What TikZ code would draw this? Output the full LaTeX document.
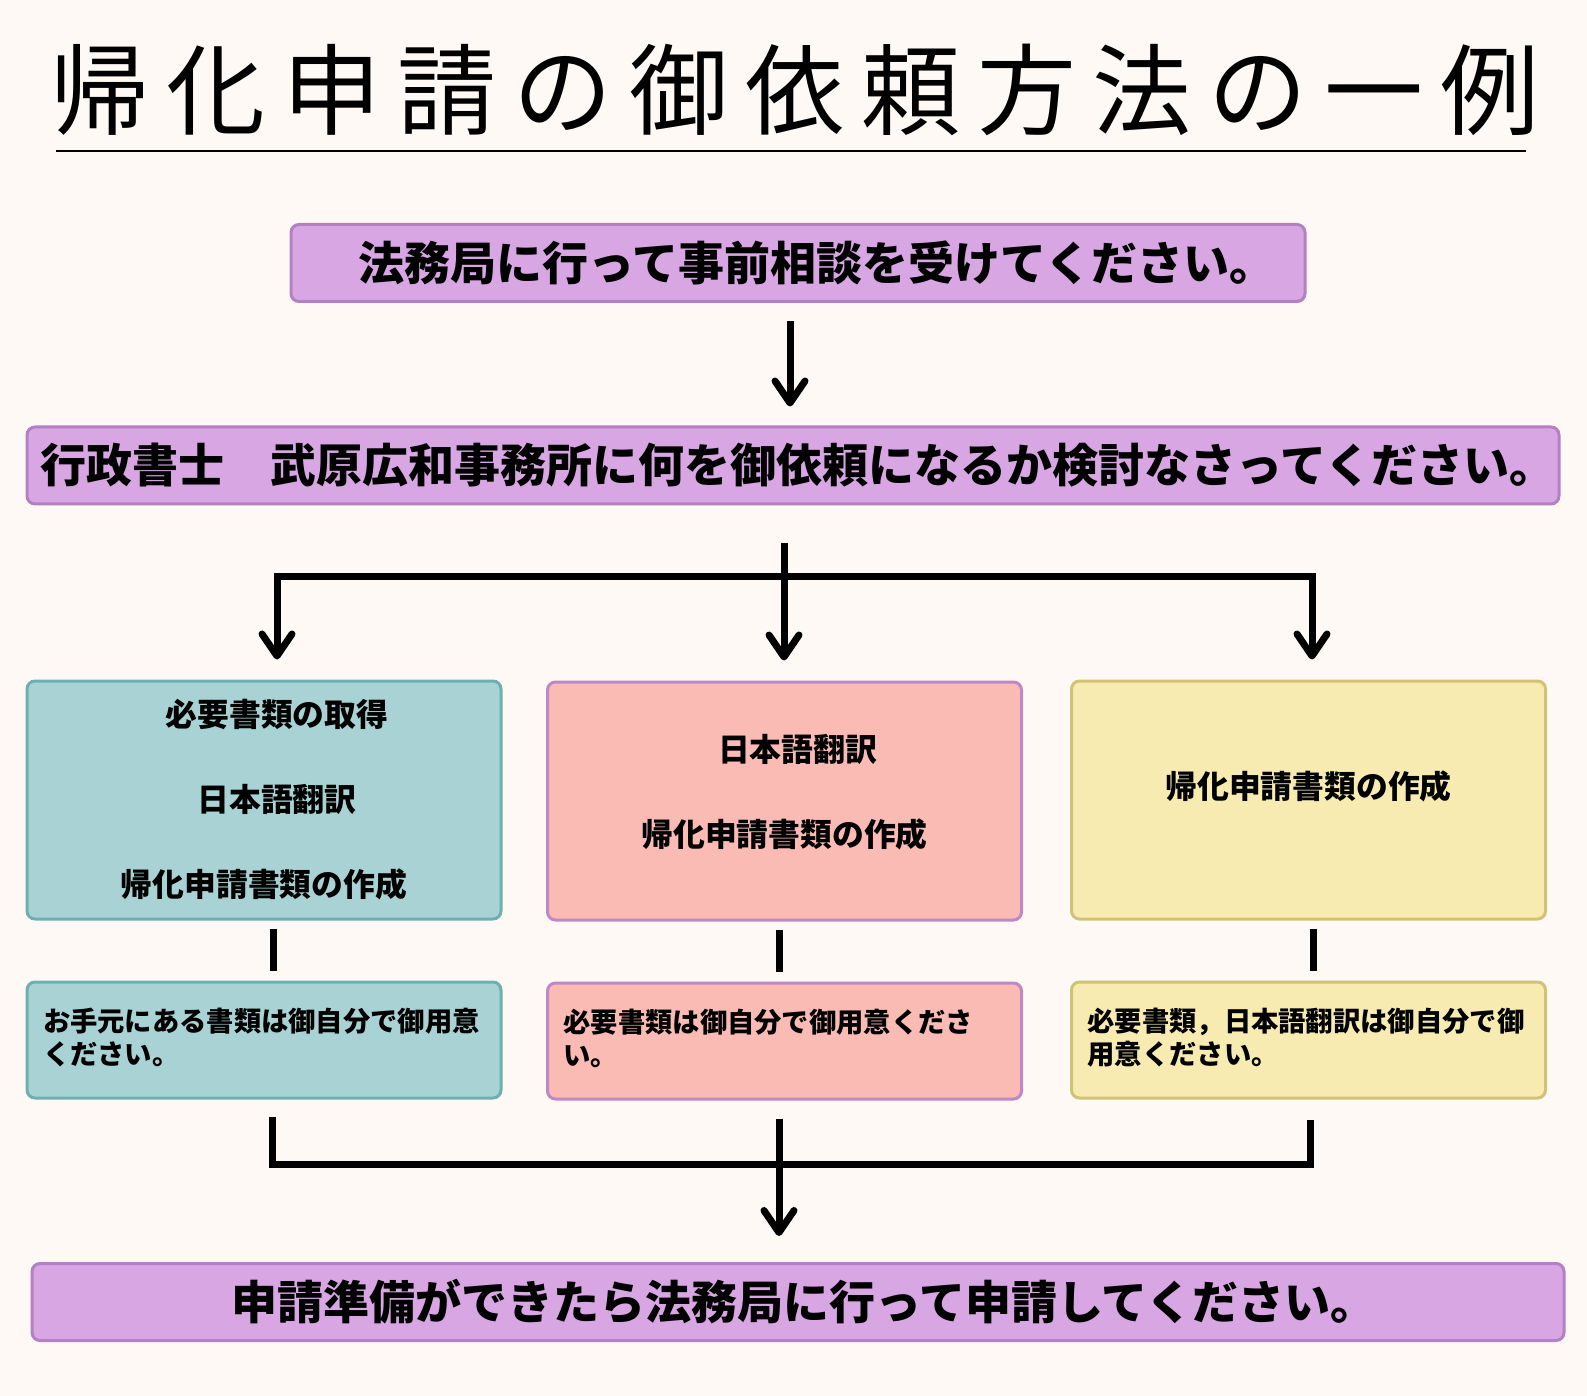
\documentclass[tikz,border=0pt]{standalone}
\usepackage{fontspec}
\usepackage{tikz}
\usetikzlibrary{positioning,arrows.meta}

\definecolor{bgcream}{RGB}{254,249,245}
\definecolor{lilacfill}{RGB}{215,166,227}
\definecolor{lilacline}{RGB}{180,128,196}
\definecolor{tealfill}{RGB}{168,210,212}
\definecolor{tealline}{RGB}{110,176,178}
\definecolor{pinkfill}{RGB}{249,187,180}
\definecolor{pinkline}{RGB}{190,136,200}
\definecolor{yellowfill}{RGB}{248,235,178}
\definecolor{yellowline}{RGB}{208,195,117}

\newfontfamily\jpfont{Noto Sans CJK JP}
\newfontfamily\titlefont[LetterSpace=17]{Noto Sans CJK JP}

\begin{document}
\begin{tikzpicture}[
      x=0.5pt, y=-0.5pt,
      box/.style={
        rounded corners=4pt, line width=1.5pt, inner sep=0pt
      },
      wide/.style={
        box, fill=lilacfill, draw=lilacline,
        minimum width=766pt, minimum height=38.5pt,
        font=\jpfont\bfseries\fontsize{23pt}{27pt}\selectfont
      },
      plan/.style={
        box, minimum width=237pt, minimum height=119pt, align=center,
        font=\jpfont\bfseries\fontsize{15.9pt}{42.5pt}\selectfont
      },
      note/.style={
        box, minimum width=237pt, minimum height=58pt,
        text width=221pt, align=left, text depth=20.6pt,
        font=\jpfont\bfseries\fontsize{13.65pt}{16.7pt}\selectfont
      },
      flow/.style={line width=3.5pt},
      >={Straight Barb[length=11pt,width=15pt,round]}
      ]

      \useasboundingbox[fill=bgcream] (0,0) rectangle (1587,1396);

      % title
      \node[inner sep=0pt, anchor=base,
            font=\titlefont\fontsize{49.5pt}{55pt}\selectfont] (title) at (795,128) {帰化申請の御依頼方法の一例};
      \draw[line width=1pt] (56,151) -- (1526,151);

      \node[wide, minimum width=507pt] (consult) at (798,263) {\hspace*{19pt}法務局に行って事前相談を受けてください。};
      \node[wide] (decide) at (793,465.5) {\hspace*{5pt}行政書士　武原広和事務所に何を御依頼になるか検討なさってください。};

      \node[plan, fill=tealfill, draw=tealline] (planA) at (264,800) {\hspace*{13pt}必要書類の取得\\\hspace*{13pt}日本語翻訳\\帰化申請書類の作成};
      \node[plan, fill=pinkfill, draw=pinkline, text depth=11pt] (planB) at (784.5,801) {\hspace*{13pt}日本語翻訳\\帰化申請書類の作成};
      \node[plan, fill=yellowfill, draw=yellowline, text depth=15pt] (planC) at (1308.5,800) {帰化申請書類の作成};

      \node[note, fill=tealfill, draw=tealline, below=30pt of planA] (noteA) {お手元にある書類は御自分で御用意\\ください。};
      \node[note, fill=pinkfill, draw=pinkline, below=30pt of planB] (noteB) {必要書類は御自分で御用意くださ\\い。};
      \node[note, fill=yellowfill, draw=yellowline, below=30pt of planC] (noteC) {必要書類，日本語翻訳は御自分で御\\用意ください。};

      \node[wide] (apply) at (798,1302) {\hspace*{6pt}申請準備ができたら法務局に行って申請してください。};

      \coordinate (fork) at (784,543);
      \coordinate (forkbar) at (784,576);
      \coordinate (merge) at (779,1164);

      % Connect the nodes
      \draw[flow,->] ([xshift=-4pt,yshift=-9pt]consult.south) -- ([xshift=-1.5pt,yshift=9.5pt]decide.north);
      \draw[flow,->] (fork) -- ([yshift=10pt]planB.north -| fork);
      \draw[flow,->] (forkbar) -| ([xshift=6.5pt,yshift=10pt]planA.north);
      \draw[flow,->] (forkbar) -| ([xshift=1.75pt,yshift=10pt]planC.north);

      \draw[flow] ([xshift=4.5pt,yshift=-4pt]planA.south) -- ([xshift=4.5pt,yshift=5pt]noteA.north);
      \draw[flow] ([xshift=-2.75pt,yshift=-4pt]planB.south) -- ([xshift=-2.75pt,yshift=5pt]noteB.north);
      \draw[flow] ([xshift=2.25pt,yshift=-4pt]planC.south) -- ([xshift=2.25pt,yshift=5pt]noteC.north);

      \draw[flow] ([xshift=4pt,yshift=-8.5pt]noteA.south) |- (merge);
      \draw[flow] ([xshift=1pt,yshift=-10pt]noteC.south) |- (merge);
      \draw[flow,->] ([yshift=-9pt]noteB.south -| merge) -- ([yshift=13pt]apply.north -| merge);

\end{tikzpicture}
\end{document}
